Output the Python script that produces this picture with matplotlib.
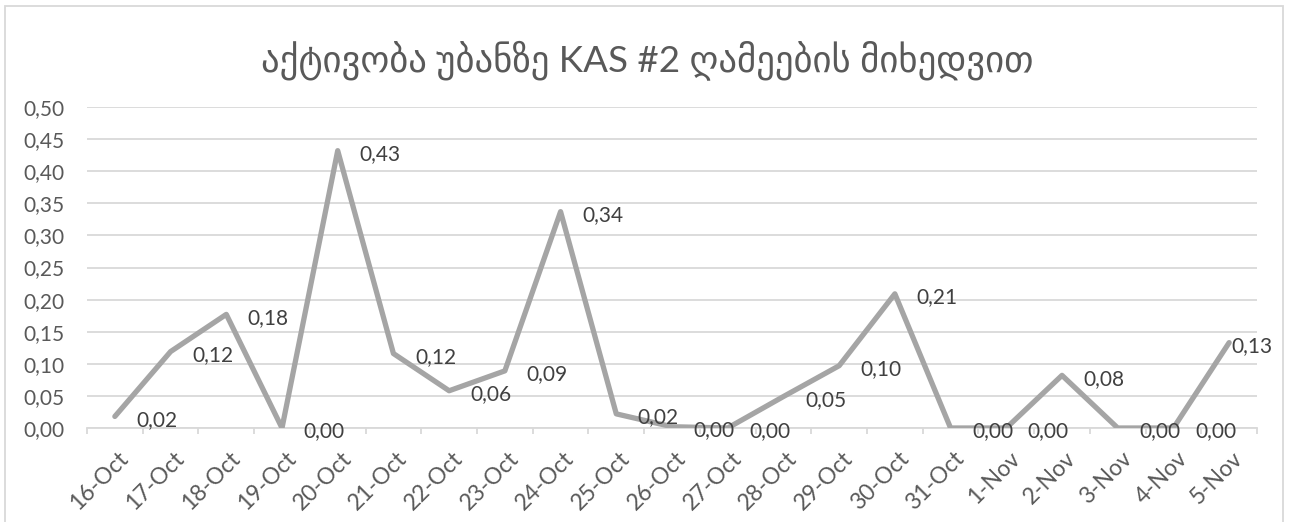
import matplotlib
matplotlib.use("Agg")
import matplotlib.pyplot as plt
from matplotlib.patches import Rectangle
from matplotlib.transforms import ScaledTranslation

plt.rcParams['font.family'] = ['Lato', 'DejaVu Sans']

# Nightly activity at the KAS #2 site
dates = ["16-Oct", "17-Oct", "18-Oct", "19-Oct", "20-Oct", "21-Oct", "22-Oct",
         "23-Oct", "24-Oct", "25-Oct", "26-Oct", "27-Oct", "28-Oct", "29-Oct",
         "30-Oct", "31-Oct", "1-Nov", "2-Nov", "3-Nov", "4-Nov", "5-Nov"]
activity = [0.018, 0.119, 0.177, 0.000, 0.432, 0.116, 0.058, 0.089, 0.337, 0.022,
            0.002, 0.000, 0.049, 0.097, 0.209, 0.000, 0.000, 0.082, 0.000, 0.000,
            0.133]
yticks = [0.00, 0.05, 0.10, 0.15, 0.20, 0.25, 0.30, 0.35, 0.40, 0.45, 0.50]
title = "აქტივობა უბანზე KAS #2 ღამეების მიხედვით"

W, H, DPI = 1301, 522, 100
FRAME_L, FRAME_R, FRAME_T = 5, 1283, 6
fig = plt.figure(figsize=(W / DPI, H / DPI), dpi=DPI)
fig.patch.set_facecolor("white")

# chart frame
fig.patches.append(Rectangle((FRAME_L / W, -0.05), (FRAME_R - FRAME_L) / W,
                             1.05 - FRAME_T / H, transform=fig.transFigure,
                             fill=False, edgecolor="#d9d9d9", linewidth=1.3))

ax = fig.add_axes([87 / W, (H - 428) / H, (1257 - 87) / W, (428 - 107) / H])
x = list(range(len(dates)))

ax.plot(x, activity, color="#a5a5a5", linewidth=3.8, solid_joinstyle="round",
        solid_capstyle="round", zorder=3)

labels = []
for xi, v in zip(x, activity):
    labels.append(ax.annotate(f"{v:.2f}".replace(".", ","), (xi, v),
                              xytext=(15.5, -2.5), textcoords="offset points",
                              ha="left", va="center", fontsize=15,
                              color="#404040", zorder=4))

ax.set_xlim(-0.5, len(dates) - 0.5)
ax.set_ylim(0, 0.5)
ax.set_yticks(yticks)
ax.set_yticklabels([f"{t:.2f}".replace(".", ",") for t in yticks])
ax.yaxis.grid(True, color="#d9d9d9", linewidth=1.3)
ax.set_axisbelow(True)
for s in ["top", "right", "left"]:
    ax.spines[s].set_visible(False)
ax.spines["bottom"].set_color("#d9d9d9")
ax.spines["bottom"].set_linewidth(1.3)

ax.tick_params(axis="y", length=0, pad=16, labelsize=15, labelcolor="#595959")
ax.set_xticks(x)
ax.set_xticklabels(dates, rotation=45, ha="right", rotation_mode="anchor")
ax.set_xticks([i - 0.5 for i in range(len(dates) + 1)], minor=True)
ax.tick_params(axis="x", which="major", length=0, pad=14, labelsize=16.5,
               labelcolor="#595959")
ax.tick_params(axis="x", which="minor", length=4.5, width=1.3, color="#d9d9d9",
               direction="out")
offset = ScaledTranslation(3 / DPI, 0, fig.dpi_scale_trans)
for lbl in ax.get_xticklabels():
    lbl.set_transform(lbl.get_transform() + offset)

fig.text(0.4977, (H - 60) / H, title, ha="center", va="center", fontsize=26.5,
         color="#595959")

# keep data labels inside the chart frame
fig.canvas.draw()
renderer = fig.canvas.get_renderer()
limit = FRAME_R - 10
for t in labels:
    bb = t.get_window_extent(renderer)
    if bb.x1 > limit:
        dx, dy = t.xyann
        t.xyann = (dx - (bb.x1 - limit) * 72 / DPI, dy)

fig.savefig("out.png", dpi=DPI)
